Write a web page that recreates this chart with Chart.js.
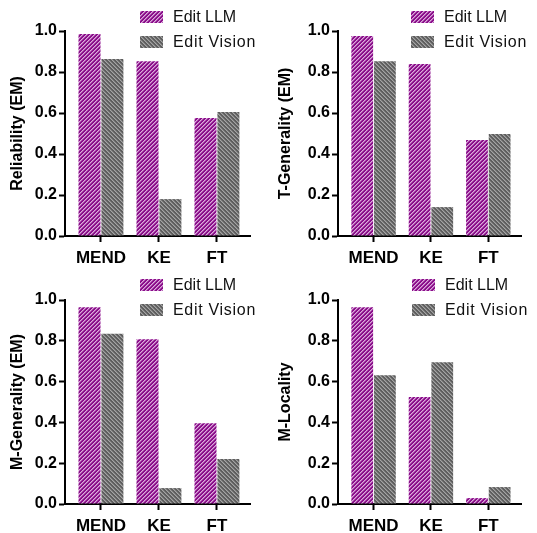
<!DOCTYPE html>
<html>
<head>
<meta charset="utf-8">
<script src="https://cdn.jsdelivr.net/npm/chart.js@4.4.1/dist/chart.umd.min.js"></script>
<style>
  html, body { margin: 0; padding: 0; background: #fff; }
  #wrap { position: relative; width: 537px; height: 533px; font-family: "Liberation Sans", Arial, sans-serif; }
  .panel { position: absolute; }
  .legend { position: absolute; font-size: 16px; color: #111; }
  .legend .row { display: flex; align-items: center; height: 25px; }
  .legend .sw { width: 23px; height: 12px; margin-right: 10px; }
  .legend .row:nth-child(2) span { letter-spacing: 0.7px; }
</style>
</head>
<body>
<div id="wrap"></div>
<script>
// categories and series
const categories = ['MEND', 'KE', 'FT'];
const seriesNames = ['Edit LLM', 'Edit Vision'];

const reliabilityLLM    = [0.985, 0.852, 0.576];
const reliabilityVision = [0.863, 0.180, 0.605];
const tGeneralityLLM    = [0.976, 0.839, 0.468];
const tGeneralityVision = [0.852, 0.141, 0.498];
const mGeneralityLLM    = [0.964, 0.808, 0.396];
const mGeneralityVision = [0.835, 0.078, 0.220];
const mLocalityLLM      = [0.964, 0.524, 0.029];
const mLocalityVision   = [0.631, 0.695, 0.083];

const yMin = 0, yMax = 1, yStep = 0.2;
// x axis runs a bit past the outer categories (uneven, as in the original)
const xMin = -0.62, xMax = 2.57;

// panel layout (pixel boxes)
const panels = [
  {title: 'Reliability (EM)',   llm: reliabilityLLM, vis: reliabilityVision, x: 0,   y: 0,   w: 268, h: 268, left: 65, right: 250, top: 31, bottom: 236, legX: 140},
  {title: 'T-Generality (EM)',  llm: tGeneralityLLM, vis: tGeneralityVision, x: 268, y: 0,   w: 269, h: 268, left: 70, right: 253, top: 31, bottom: 236, legX: 143},
  {title: 'M-Generality (EM)',  llm: mGeneralityLLM, vis: mGeneralityVision, x: 0,   y: 268, w: 268, h: 265, left: 65, right: 250, top: 32, bottom: 236, legX: 140},
  {title: 'M-Locality',         llm: mLocalityLLM,   vis: mLocalityVision,   x: 268, y: 268, w: 269, h: 265, left: 70, right: 253, top: 32, bottom: 236, legX: 144}
];

// hatch tile: base colour with 45deg stripes
function makeTile(base, stripe, mid, dir) {
  const s = 4;
  const c = document.createElement('canvas');
  c.width = s; c.height = s;
  const g = c.getContext('2d');
  g.fillStyle = base; g.fillRect(0, 0, s, s);
  for (let y = 0; y < s; y++) {
    for (let x = 0; x < s; x++) {
      const k = (((dir === '/' ? x + y : x - y) % s) + s) % s;
      if (k === 0) { g.fillStyle = stripe; g.fillRect(x, y, 1, 1); }
      else if (k === 1) { g.fillStyle = mid; g.fillRect(x, y, 1, 1); }
    }
  }
  return c;
}
const purpleTile = makeTile('#8a0e8a', '#dca9dc', '#b562b5', '/');
const grayTile   = makeTile('#5e5e5e', '#a4a4a4', '#808080', '\\');

const wrap = document.getElementById('wrap');
const FONT = '"Liberation Sans", Arial, sans-serif';

panels.forEach(p => {
  const div = document.createElement('div');
  div.className = 'panel';
  div.style.left = p.x + 'px'; div.style.top = p.y + 'px';
  div.style.width = p.w + 'px'; div.style.height = p.h + 'px';
  const cv = document.createElement('canvas');
  cv.width = p.w; cv.height = p.h;
  cv.style.width = p.w + 'px'; cv.style.height = p.h + 'px';
  div.appendChild(cv);

  // html legend
  const leg = document.createElement('div');
  leg.className = 'legend';
  leg.style.left = p.legX + 'px'; leg.style.top = '4px';
  [purpleTile, grayTile].forEach((tile, i) => {
    const row = document.createElement('div'); row.className = 'row';
    const sw = document.createElement('div'); sw.className = 'sw';
    sw.style.backgroundImage = 'url(' + tile.toDataURL() + ')';
    const tx = document.createElement('span'); tx.textContent = seriesNames[i];
    row.appendChild(sw); row.appendChild(tx);
    leg.appendChild(row);
  });
  div.appendChild(leg);
  wrap.appendChild(div);

  const ctx = cv.getContext('2d');
  const purple = ctx.createPattern(purpleTile, 'repeat');
  const gray = ctx.createPattern(grayTile, 'repeat');

  new Chart(ctx, {
    type: 'bar',
    data: {
      datasets: [
        {label: seriesNames[0], data: p.llm.map((v, i) => ({x: i, y: v})), backgroundColor: purple, borderWidth: 0},
        {label: seriesNames[1], data: p.vis.map((v, i) => ({x: i, y: v})), backgroundColor: gray, borderWidth: 0}
      ]
    },
    options: {
      responsive: false,
      animation: false,
      devicePixelRatio: 1,
      categoryPercentage: 0.79,
      barPercentage: 0.96,
      layout: {padding: {left: 0, top: p.top, right: p.w - p.right, bottom: 0}},
      plugins: {legend: {display: false}, tooltip: {enabled: false}},
      scales: {
        x: {
          type: 'linear',
          min: xMin, max: xMax,
          offset: false,
          afterBuildTicks: s => { s.ticks = categories.map((c, i) => ({value: i})); },
          grid: {display: true, offset: false, drawOnChartArea: false, drawTicks: true, tickLength: 6, tickWidth: 2, tickColor: '#000'},
          border: {display: true, color: '#000', width: 2},
          ticks: {color: '#000', font: {family: FONT, size: 17, weight: 'bold'}, padding: 6,
                  autoSkip: false, maxRotation: 0, callback: v => categories[v]},
          afterFit: s => { s.height = p.h - p.bottom; }
        },
        y: {
          min: yMin, max: yMax,
          grid: {display: true, drawOnChartArea: false, drawTicks: true, tickLength: 6, tickWidth: 2, tickColor: '#000'},
          border: {display: true, color: '#000', width: 2},
          ticks: {stepSize: yStep, color: '#000', font: {family: FONT, size: 16, weight: 'bold'}, padding: 2,
                  callback: v => v.toFixed(1)},
          title: {display: true, text: p.title, color: '#000', font: {family: FONT, size: 16, weight: 'bold'}, padding: {top: 8, bottom: 0}},
          afterFit: s => { s.width = p.left; }
        }
      }
    }
  });
});
</script>
</body>
</html>
